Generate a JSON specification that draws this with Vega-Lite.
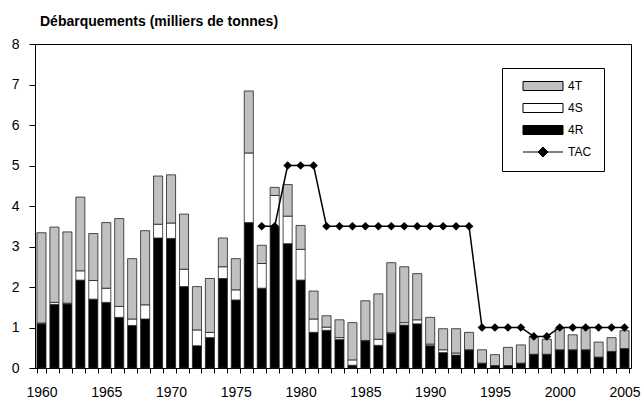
{
  "$schema": "https://vega.github.io/schema/vega-lite/v6.json",
  "width": 596,
  "height": 324,
  "autosize": {"type": "none"},
  "padding": {"left": 35, "top": 44, "right": 11, "bottom": 32},
  "title": {"text": "Débarquements (milliers de tonnes)", "anchor": "start", "frame": "group", "fontSize": 14, "fontWeight": "bold", "font": "Liberation Sans", "dx": 5, "offset": 8, "color": "black"},
  "config": {
    "font": "Liberation Sans",
    "view": {"stroke": "black", "strokeWidth": 1},
    "legend": {
      "orient": "none",
      "legendX": 467,
      "legendY": 24,
      "padding": 12,
      "strokeColor": "black",
      "fillColor": "white",
      "labelFontSize": 12,
      "labelColor": "black",
      "labelOffset": 34,
      "symbolOffset": 8,
      "rowPadding": 8,
      "symbolSize": 100,
      "symbolOpacity": 1,
      "symbolStrokeColor": "black",
      "symbolStrokeWidth": 1
    }
  },
  "data": {"values": [
    {"year": 1960, "4R": 1.09, "4S": 0.02, "4T": 2.23, "TAC": null},
    {"year": 1961, "4R": 1.57, "4S": 0.05, "4T": 1.86, "TAC": null},
    {"year": 1962, "4R": 1.58, "4S": 0.02, "4T": 1.76, "TAC": null},
    {"year": 1963, "4R": 2.17, "4S": 0.23, "4T": 1.82, "TAC": null},
    {"year": 1964, "4R": 1.70, "4S": 0.46, "4T": 1.16, "TAC": null},
    {"year": 1965, "4R": 1.62, "4S": 0.35, "4T": 1.62, "TAC": null},
    {"year": 1966, "4R": 1.25, "4S": 0.27, "4T": 2.17, "TAC": null},
    {"year": 1967, "4R": 1.05, "4S": 0.16, "4T": 1.49, "TAC": null},
    {"year": 1968, "4R": 1.21, "4S": 0.35, "4T": 1.83, "TAC": null},
    {"year": 1969, "4R": 3.21, "4S": 0.34, "4T": 1.19, "TAC": null},
    {"year": 1970, "4R": 3.20, "4S": 0.38, "4T": 1.19, "TAC": null},
    {"year": 1971, "4R": 2.01, "4S": 0.43, "4T": 1.36, "TAC": null},
    {"year": 1972, "4R": 0.55, "4S": 0.39, "4T": 1.07, "TAC": null},
    {"year": 1973, "4R": 0.75, "4S": 0.13, "4T": 1.33, "TAC": null},
    {"year": 1974, "4R": 2.21, "4S": 0.29, "4T": 0.71, "TAC": null},
    {"year": 1975, "4R": 1.68, "4S": 0.25, "4T": 0.77, "TAC": null},
    {"year": 1976, "4R": 3.59, "4S": 1.72, "4T": 1.53, "TAC": null},
    {"year": 1977, "4R": 1.97, "4S": 0.61, "4T": 0.45, "TAC": 3.5},
    {"year": 1978, "4R": 3.48, "4S": 0.78, "4T": 0.20, "TAC": 3.5},
    {"year": 1979, "4R": 3.07, "4S": 0.68, "4T": 0.78, "TAC": 5.0},
    {"year": 1980, "4R": 2.17, "4S": 0.76, "4T": 0.59, "TAC": 5.0},
    {"year": 1981, "4R": 0.88, "4S": 0.33, "4T": 0.69, "TAC": 5.0},
    {"year": 1982, "4R": 0.93, "4S": 0.08, "4T": 0.28, "TAC": 3.5},
    {"year": 1983, "4R": 0.70, "4S": 0.05, "4T": 0.44, "TAC": 3.5},
    {"year": 1984, "4R": 0.07, "4S": 0.13, "4T": 0.92, "TAC": 3.5},
    {"year": 1985, "4R": 0.67, "4S": 0.01, "4T": 0.98, "TAC": 3.5},
    {"year": 1986, "4R": 0.56, "4S": 0.15, "4T": 1.12, "TAC": 3.5},
    {"year": 1987, "4R": 0.85, "4S": 0.02, "4T": 1.73, "TAC": 3.5},
    {"year": 1988, "4R": 1.06, "4S": 0.06, "4T": 1.38, "TAC": 3.5},
    {"year": 1989, "4R": 1.09, "4S": 0.10, "4T": 1.14, "TAC": 3.5},
    {"year": 1990, "4R": 0.55, "4S": 0.04, "4T": 0.66, "TAC": 3.5},
    {"year": 1991, "4R": 0.38, "4S": 0.07, "4T": 0.52, "TAC": 3.5},
    {"year": 1992, "4R": 0.32, "4S": 0.05, "4T": 0.60, "TAC": 3.5},
    {"year": 1993, "4R": 0.45, "4S": 0.0, "4T": 0.43, "TAC": 3.5},
    {"year": 1994, "4R": 0.12, "4S": 0.0, "4T": 0.33, "TAC": 1.0},
    {"year": 1995, "4R": 0.06, "4S": 0.0, "4T": 0.27, "TAC": 1.0},
    {"year": 1996, "4R": 0.06, "4S": 0.0, "4T": 0.45, "TAC": 1.0},
    {"year": 1997, "4R": 0.12, "4S": 0.0, "4T": 0.45, "TAC": 1.0},
    {"year": 1998, "4R": 0.34, "4S": 0.0, "4T": 0.44, "TAC": 0.78},
    {"year": 1999, "4R": 0.34, "4S": 0.0, "4T": 0.37, "TAC": 0.78},
    {"year": 2000, "4R": 0.45, "4S": 0.0, "4T": 0.53, "TAC": 1.0},
    {"year": 2001, "4R": 0.45, "4S": 0.0, "4T": 0.37, "TAC": 1.0},
    {"year": 2002, "4R": 0.45, "4S": 0.0, "4T": 0.53, "TAC": 1.0},
    {"year": 2003, "4R": 0.27, "4S": 0.0, "4T": 0.37, "TAC": 1.0},
    {"year": 2004, "4R": 0.41, "4S": 0.0, "4T": 0.34, "TAC": 1.0},
    {"year": 2005, "4R": 0.48, "4S": 0.0, "4T": 0.44, "TAC": 1.0}
  ]},
  "encoding": {
    "x": {
      "field": "year",
      "type": "ordinal",
      "scale": {"paddingInner": 0.3, "paddingOuter": 0.15},
      "axis": {
        "title": null,
        "labelAngle": 0,
        "labelExpr": "datum.value % 5 === 0 ? datum.label : ''",
        "tickBand": "extent",
        "tickSize": 5,
        "labelPadding": 12,
        "labelFontSize": 14,
        "labelColor": "black",
        "domainColor": "black",
        "tickColor": "black",
        "labelOverlap": false,
        "labelFlush": false
      }
    }
  },
  "layer": [
    {
      "transform": [{"fold": ["4R", "4S", "4T"], "as": ["series", "value"]}],
      "mark": {"type": "bar", "stroke": "#222222", "strokeWidth": 0.8},
      "encoding": {
        "y": {
          "field": "value",
          "type": "quantitative",
          "stack": "zero",
          "scale": {"domain": [0, 8], "nice": false},
          "axis": {
            "title": null,
            "values": [0, 1, 2, 3, 4, 5, 6, 7, 8],
            "tickSize": 6,
            "labelPadding": 10,
            "labelFontSize": 14,
            "grid": false,
            "labelColor": "black",
            "domainColor": "black",
            "tickColor": "black"
          }
        },
        "color": {
          "field": "series",
          "type": "nominal",
          "scale": {"domain": ["4T", "4S", "4R", "TAC"], "range": ["#c0c0c0", "#ffffff", "#000000", "#000000"]},
          "legend": {
            "title": null,
            "encode": {
              "symbols": {
                "update": {
                  "stroke": {"value": "black"},
                  "strokeWidth": {"value": 1},
                  "opacity": {"value": 1}
                }
              }
            }
          }
        },
        "order": {"field": "series", "sort": "ascending"}
      }
    },
    {
      "transform": [{"fold": ["4R", "4S", "4T"], "as": ["series", "value"]}],
      "mark": {"type": "point", "opacity": 0},
      "encoding": {
        "y": {"field": "value", "type": "quantitative"},
        "shape": {
          "field": "series",
          "type": "nominal",
          "scale": {"domain": ["4T", "4S", "4R", "TAC"], "range": ["M-1,-0.9H7V0.9H-1Z", "M-1,-0.9H7V0.9H-1Z", "M-1,-0.9H7V0.9H-1Z", "M-1,0H7M2,0L3,-1L4,0L3,1Z"]},
          "legend": {
            "title": null,
            "encode": {
              "symbols": {
                "update": {
                  "stroke": {"value": "black"},
                  "strokeWidth": {"value": 1},
                  "opacity": {"value": 1}
                }
              }
            }
          }
        }
      }
    },
    {
      "transform": [{"filter": "isValid(datum.TAC)"}],
      "mark": {"type": "line", "color": "black", "strokeWidth": 1.5, "point": {"shape": "diamond", "size": 75, "filled": true, "color": "black"}},
      "encoding": {
        "y": {"field": "TAC", "type": "quantitative"}
      }
    }
  ]
}
